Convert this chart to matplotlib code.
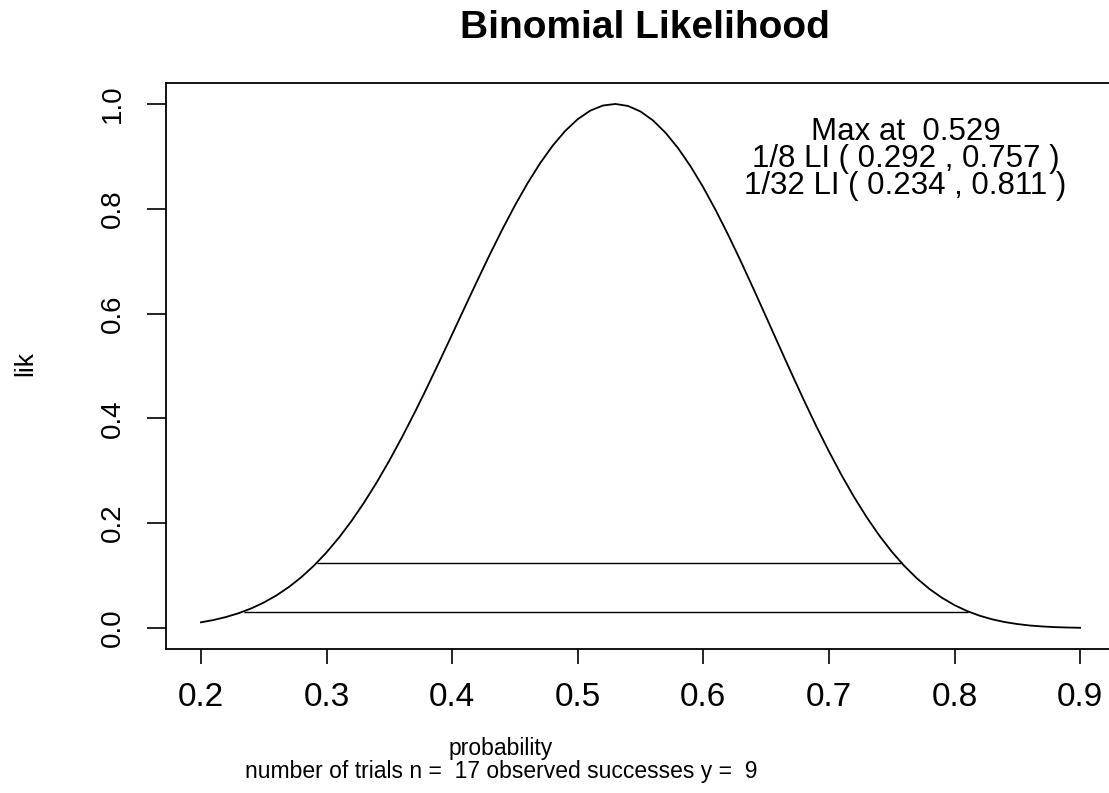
import matplotlib
matplotlib.use("Agg")
import matplotlib.pyplot as plt

plt.rcParams['font.family'] = ['Liberation Sans', 'DejaVu Sans']

# likelihood, every 0.01
prob = [0.20, 0.21, 0.22, 0.23, 0.24, 0.25, 0.26, 0.27, 0.28, 0.29,
        0.30, 0.31, 0.32, 0.33, 0.34, 0.35, 0.36, 0.37, 0.38, 0.39,
        0.40, 0.41, 0.42, 0.43, 0.44, 0.45, 0.46, 0.47, 0.48, 0.49,
        0.50, 0.51, 0.52, 0.53, 0.54, 0.55, 0.56, 0.57, 0.58, 0.59,
        0.60, 0.61, 0.62, 0.63, 0.64, 0.65, 0.66, 0.67, 0.68, 0.69,
        0.70, 0.71, 0.72, 0.73, 0.74, 0.75, 0.76, 0.77, 0.78, 0.79,
        0.80, 0.81, 0.82, 0.83, 0.84, 0.85, 0.86, 0.87, 0.88, 0.89,
        0.90]
lik = [0.0109, 0.0153, 0.0211, 0.0283, 0.0374, 0.0486, 0.0621, 0.0783, 0.0972, 0.1192,
       0.1444, 0.1729, 0.2047, 0.2399, 0.2782, 0.3196, 0.3638, 0.4105, 0.4591, 0.5093,
       0.5604, 0.6118, 0.6628, 0.7128, 0.7609, 0.8064, 0.8486, 0.8868, 0.9203, 0.9485,
       0.9710, 0.9873, 0.9970, 1.0000, 0.9962, 0.9856, 0.9684, 0.9448, 0.9153, 0.8804,
       0.8406, 0.7966, 0.7491, 0.6989, 0.6468, 0.5936, 0.5401, 0.4870, 0.4350, 0.3848,
       0.3370, 0.2919, 0.2500, 0.2116, 0.1768, 0.1458, 0.1185, 0.0948, 0.0746, 0.0577,
       0.0437, 0.0324, 0.0235, 0.0166, 0.0114, 0.0076, 0.0048, 0.0030, 0.0017, 0.0010,
       0.0005]

li8_level = 1 / 8
li8 = [0.292, 0.757]
li32_level = 1 / 32
li32 = [0.234, 0.811]
p_max = 0.529
n_trials = 17
n_success = 9

xticks = [0.2, 0.3, 0.4, 0.5, 0.6, 0.7, 0.8, 0.9]
yticks = [0.0, 0.2, 0.4, 0.6, 0.8, 1.0]

fig = plt.figure(figsize=(11.09, 7.93), dpi=100)
ax = fig.add_axes([165.8 / 1109, 144 / 793, 949.5 / 1109, 566 / 793])

ax.plot(prob, lik, color='black', lw=1.3)
ax.hlines(li8_level, li8[0], li8[1], color='black', lw=1.0)
ax.hlines(li32_level, li32[0], li32[1], color='black', lw=1.0)

ax.set_xlim(0.172, 0.928)
ax.set_ylim(-0.04, 1.04)
ax.set_xticks(xticks)
ax.set_xticklabels(['%.1f' % v for v in xticks])
ax.set_yticks(yticks)
ax.set_yticklabels(['%.1f' % v for v in yticks])
ax.tick_params(axis='x', length=11, width=1.2, pad=13, labelsize=24)
ax.tick_params(axis='y', length=14, width=1.2, pad=15, labelsize=20, labelrotation=90)
for lab in ax.get_yticklabels():
    lab.set_va('center')
for sp in ax.spines.values():
    sp.set_linewidth(1.3)
ax.spines['right'].set_visible(False)

ax.text(0.761, 0.895,
        'Max at  %.3f\n1/8 LI ( %.3f , %.3f )\n1/32 LI ( %.3f , %.3f )'
        % (p_max, li8[0], li8[1], li32[0], li32[1]),
        ha='center', va='center', multialignment='center',
        fontsize=22.5, linespacing=0.85)

fig.text(645 / 1109, 1 - 28 / 793, 'Binomial Likelihood',
         ha='center', va='center', fontsize=28, fontweight='bold')
fig.text(25 / 1109, 1 - 363 / 793, 'lik', rotation=90,
         ha='center', va='center', fontsize=19)
fig.text(501 / 1109, 1 - 760 / 793,
         'probability\nnumber of trials n =  %d observed successes y =  %d'
         % (n_trials, n_success),
         ha='center', va='center', multialignment='center',
         fontsize=16.5, linespacing=0.95)

fig.savefig('out.png', dpi=100)
